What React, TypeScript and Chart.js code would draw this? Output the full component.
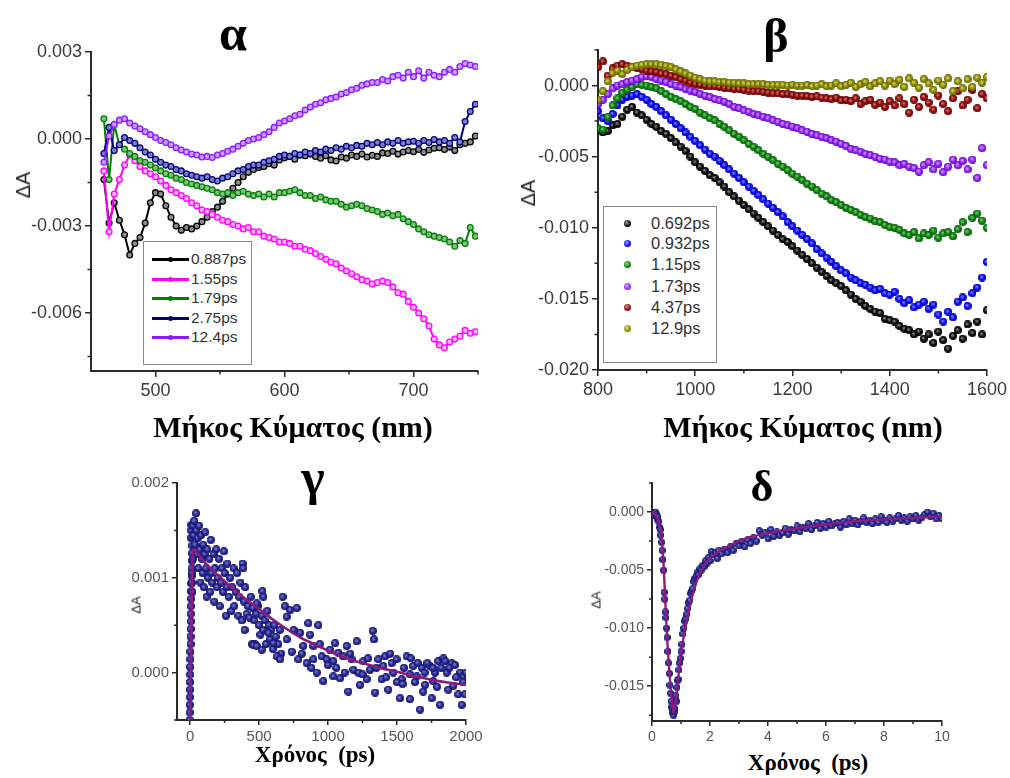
import React, { useEffect, useRef } from "react";
import { Chart, registerables } from "chart.js";

Chart.register(...registerables);

const SANS = "'Liberation Sans', Arial, Helvetica, sans-serif";
const SERIF = "'Liberation Serif', 'Times New Roman', serif";

// ---------- Panel α: visible transient spectra (ΔA × 10³) ----------
const waveVis = [
  460, 464, 468, 472, 476, 480, 484, 488, 492, 496,
  500, 504, 508, 512, 516, 520, 524, 528, 532, 536,
  540, 544, 548, 552, 556, 560, 564, 568, 572, 576,
  580, 584, 588, 592, 596, 600, 604, 608, 612, 616,
  620, 624, 628, 632, 636, 640, 644, 648, 652, 656,
  660, 664, 668, 672, 676, 680, 684, 688, 692, 696,
  700, 704, 708, 712, 716, 720, 724, 728, 732, 736,
  740, 744, 748,
];
const vis0887 = [
  -1.4, -2.9, -2.2, -2.8, -3.3, -4.0, -3.6, -3.4, -2.9, -2.2,
  -1.85, -1.9, -2.3, -2.7, -3.0, -3.15, -3.05, -3.1, -3.0, -2.85,
  -2.7, -2.5, -2.35, -2.15, -1.9, -1.7, -1.5, -1.3, -1.15, -1.05,
  -0.98, -0.95, -0.85, -0.9, -0.72, -0.65, -0.6, -0.7, -0.55, -0.58,
  -0.52, -0.6, -0.66, -0.58, -0.72, -0.76, -0.62, -0.66, -0.55, -0.6,
  -0.52, -0.62, -0.56, -0.6, -0.48, -0.5, -0.42, -0.52, -0.45, -0.4,
  -0.44, -0.36, -0.46, -0.38, -0.32, -0.3, -0.36, -0.28, -0.4, -0.2,
  -0.15, -0.1, 0.1,
];
const vis155 = [
  -1.1, -3.2, -1.9, -1.4, -0.9, -0.55, -0.75, -0.95, -1.1, -1.2,
  -1.3, -1.45, -1.6, -1.75, -1.85, -1.95, -2.05, -2.2, -2.3, -2.45,
  -2.5, -2.6, -2.7, -2.8, -2.85, -2.95, -3.0, -3.1, -3.05, -3.2,
  -3.2, -3.35, -3.4, -3.45, -3.55, -3.55, -3.6, -3.7, -3.7, -3.8,
  -3.85, -3.95, -4.05, -4.15, -4.25, -4.3, -4.45, -4.55, -4.65, -4.75,
  -4.85, -4.9, -5.0, -4.95, -4.9, -4.95, -5.1, -5.3, -5.35, -5.6,
  -5.8, -6.0, -6.2, -6.45, -6.9, -7.1, -7.2, -7.0, -6.9, -6.8,
  -6.6, -6.7, -6.65,
];
const vis179 = [
  0.7, -1.4, 0.5, -0.2, -0.35, -0.5, -0.6, -0.75, -0.8, -0.9,
  -1.0, -1.1, -1.2, -1.25, -1.35, -1.4, -1.5, -1.55, -1.6, -1.65,
  -1.7, -1.75, -1.85, -1.9, -1.85, -1.95, -1.85, -1.8, -1.9, -1.95,
  -1.9, -2.0, -1.9, -2.0, -1.85, -1.85, -1.8, -1.75, -1.85, -1.95,
  -1.95, -2.05, -2.0, -2.1, -2.15, -2.15, -2.25, -2.35, -2.3, -2.25,
  -2.3, -2.4, -2.45, -2.5, -2.6, -2.55, -2.65, -2.6, -2.75, -2.85,
  -2.95, -3.1, -3.2, -3.3, -3.35, -3.4, -3.45, -3.55, -3.7, -3.5,
  -3.6, -3.05, -3.35,
];
const vis275 = [
  -0.5, 0.4, -0.4, -0.2, 0.05, -0.05, -0.15, -0.3, -0.45, -0.55,
  -0.7, -0.8, -0.9, -0.95, -1.05, -1.1, -1.2, -1.25, -1.3, -1.35,
  -1.3, -1.4, -1.45, -1.35, -1.3, -1.2, -1.1, -1.05, -0.95, -0.9,
  -0.9, -0.8, -0.75, -0.7, -0.6, -0.55, -0.6, -0.5, -0.55, -0.45,
  -0.5, -0.4, -0.45, -0.35, -0.4, -0.3, -0.35, -0.25, -0.3, -0.22,
  -0.25, -0.15, -0.2, -0.12, -0.2, -0.1, -0.15, -0.05, -0.15, -0.1,
  -0.08, -0.15, -0.05, -0.12, -0.02, -0.1, -0.05, -0.15, 0.05, -0.1,
  0.6, 0.95, 1.2,
];
const vis124 = [
  -0.8, 0.1, 0.5, 0.65, 0.7, 0.55, 0.45, 0.35, 0.25, 0.15,
  0.05, -0.05, -0.12, -0.2, -0.3, -0.38, -0.45, -0.52, -0.55, -0.62,
  -0.6, -0.64, -0.55, -0.5, -0.42, -0.35, -0.25, -0.15, -0.05, 0.0,
  0.05, 0.15, 0.25, 0.4, 0.55, 0.62, 0.7, 0.8, 0.85, 1.0,
  1.1, 1.2, 1.25, 1.35, 1.4, 1.45, 1.55, 1.6, 1.7, 1.75,
  1.85, 1.9, 1.95, 1.95, 2.05, 2.0, 2.15, 2.2, 2.1, 2.3,
  2.15, 2.35, 2.1, 2.3, 2.2, 2.15, 2.3, 2.4, 2.3, 2.5,
  2.6, 2.55, 2.5,
];
const visLabels = ["0.887ps", "1.55ps", "1.79ps", "2.75ps", "12.4ps"];
const visColors = ["#000000", "#ff00ff", "#008000", "#000080", "#8a1aff"];
const visTints = ["#8c8c8c", "#ffb3ff", "#7fc07f", "#7f7fc4", "#c99bff"];

// ---------- Panel β: near-IR transient spectra (ΔA × 10³) ----------
const waveNir = [
  800, 810, 820, 830, 840, 850, 860, 870, 880, 890,
  900, 910, 920, 930, 940, 950, 960, 970, 980, 990,
  1000, 1010, 1020, 1030, 1040, 1050, 1060, 1070, 1080, 1090,
  1100, 1110, 1120, 1130, 1140, 1150, 1160, 1170, 1180, 1190,
  1200, 1210, 1220, 1230, 1240, 1250, 1260, 1270, 1280, 1290,
  1300, 1310, 1320, 1330, 1340, 1350, 1360, 1370, 1380, 1390,
  1400, 1410, 1420, 1430, 1440, 1450, 1460, 1470, 1480, 1490,
  1500, 1510, 1520, 1530, 1540, 1550, 1560, 1570, 1580, 1590,
  1600,
];
const nir0692 = [
  -3.1, -3.3, -3.2, -2.8, -2.7, -2.2, -1.7, -1.5, -1.9, -2.1,
  -2.4, -2.7, -2.9, -3.2, -3.4, -3.7, -4.0, -4.3, -4.6, -5.0,
  -5.4, -5.7, -6.0, -6.3, -6.5, -6.8, -7.1, -7.5, -7.8, -8.1,
  -8.4, -8.7, -9.0, -9.3, -9.6, -9.9, -10.2, -10.5, -10.8, -11.0,
  -11.3, -11.6, -11.9, -12.2, -12.5, -12.8, -13.1, -13.4, -13.7, -13.9,
  -14.1, -14.4, -14.7, -15.0, -15.2, -15.5, -15.7, -15.9, -16.0, -16.4,
  -16.5, -16.6, -16.9, -17.1, -17.2, -17.5, -17.3, -17.8, -17.5, -18.1,
  -17.3, -17.9, -18.5, -17.6, -17.2, -17.8, -16.8, -17.4, -16.6, -17.5,
  -15.8,
];
const nir0932 = [
  -1.8, -2.3, -2.5, -2.0, -1.4, -1.0, -0.8, -0.7, -0.6, -0.8,
  -1.0, -1.3, -1.5, -1.8, -2.1, -2.4, -2.7, -3.0, -3.3, -3.6,
  -3.9, -4.2, -4.5, -4.8, -5.0, -5.3, -5.6, -5.9, -6.2, -6.5,
  -6.8, -7.1, -7.4, -7.7, -8.0, -8.3, -8.6, -8.9, -9.2, -9.6,
  -9.9, -10.2, -10.5, -10.8, -11.1, -11.5, -11.8, -12.1, -12.4, -12.7,
  -13.0, -13.2, -13.5, -13.7, -13.9, -14.0, -14.2, -14.4, -14.3, -14.6,
  -14.7, -14.5, -15.0, -15.3, -15.1, -15.6, -15.4, -15.2, -15.7, -15.4,
  -16.1, -16.6, -15.9, -16.3, -15.2, -14.9, -15.5, -14.6, -14.2, -13.5,
  -12.4,
];
const nir115 = [
  -3.0, -3.1, -2.2, -1.4, -0.9, -0.5, -0.3, -0.1, 0.1, 0.05,
  0.0, -0.1, -0.2, -0.4, -0.6, -0.8, -0.95, -1.1, -1.3, -1.5,
  -1.65, -1.9, -2.1, -2.3, -2.45, -2.7, -2.9, -3.15, -3.4, -3.6,
  -3.85, -4.1, -4.3, -4.55, -4.8, -5.0, -5.25, -5.5, -5.7, -5.95,
  -6.2, -6.4, -6.65, -6.9, -7.1, -7.35, -7.6, -7.8, -8.05, -8.2,
  -8.4, -8.6, -8.75, -8.9, -9.1, -9.25, -9.35, -9.55, -9.6, -9.8,
  -9.95, -10.0, -10.15, -10.4, -10.5, -10.3, -10.75, -10.4, -10.5, -10.2,
  -10.7, -10.4, -10.3, -10.6, -10.1, -9.6, -10.3, -9.3, -9.0, -9.5,
  -10.0,
];
const nir173 = [
  -1.3, -1.0, -0.6, -0.2, 0.0, 0.1, 0.25, 0.35, 0.45, 0.6,
  0.65, 0.6, 0.45, 0.35, 0.25, 0.1, 0.0, -0.1, -0.25, -0.35,
  -0.45, -0.6, -0.7, -0.8, -0.95, -1.05, -1.15, -1.3, -1.5, -1.6,
  -1.75, -1.85, -2.0, -2.1, -2.2, -2.3, -2.45, -2.55, -2.7, -2.8,
  -2.9, -3.0, -3.15, -3.25, -3.4, -3.5, -3.6, -3.7, -3.85, -3.95,
  -4.1, -4.25, -4.45, -4.55, -4.65, -4.8, -4.9, -5.0, -5.15, -5.2,
  -5.35, -5.4, -5.6, -5.5, -5.7, -5.8, -6.05, -5.6, -5.4, -5.9,
  -5.5, -6.1, -5.7, -5.2, -5.6, -5.3, -5.9, -5.2, -6.5, -4.4,
  -5.6,
];
const nir437 = [
  1.3, 1.7, 0.7, 1.2, 1.4, 1.5, 1.4, 1.3, 1.25, 1.15,
  1.05, 1.0, 0.95, 0.85, 0.8, 0.7, 0.6, 0.45, 0.35, 0.2,
  0.1, 0.05, 0.0, -0.05, -0.05, -0.1, -0.15, -0.2, -0.25, -0.25,
  -0.3, -0.35, -0.4, -0.4, -0.45, -0.5, -0.55, -0.55, -0.6, -0.6,
  -0.65, -0.7, -0.7, -0.75, -0.8, -0.75, -0.85, -0.9, -0.95, -0.85,
  -1.05, -1.0, -1.1, -0.9, -1.3, -1.1, -1.0, -1.35, -1.2, -1.5,
  -1.1, -1.4, -0.9, -1.3, -1.9, -1.0, -1.5, -0.8, -1.2, -1.7,
  -0.7, -1.3, -1.8, -0.9, -0.4, -1.4, -1.0, -0.3, -1.6, -0.6,
  -0.9,
];
const nir129 = [
  -1.0, -0.4, 0.3, 0.9, 1.05, 0.8, 1.1, 1.3, 1.4, 1.45,
  1.5, 1.5, 1.5, 1.45, 1.4, 1.3, 1.15, 1.0, 0.85, 0.7,
  0.55, 0.45, 0.35, 0.3, 0.3, 0.25, 0.25, 0.2, 0.2, 0.15,
  0.15, 0.1, 0.1, 0.1, 0.1, 0.05, 0.05, 0.05, 0.05, 0.0,
  0.05, 0.0, 0.0, 0.05, -0.05, 0.0, 0.1, -0.05, 0.0, 0.15,
  -0.05, 0.05, 0.2, -0.1, 0.1, 0.25, -0.05, 0.15, 0.3, 0.0,
  0.35, 0.1, 0.4, -0.1, 0.5, 0.2, -0.15, 0.45, 0.15, -0.3,
  0.35, 0.05, 0.5, -0.4, 0.3, -0.2, 0.45, -0.1, 0.55, 0.2,
  0.6,
];
const nirLabels = ["0.692ps", "0.932ps", "1.15ps", "1.73ps", "4.37ps", "12.9ps"];
const nirColors = ["#111111", "#1010ff", "#128a12", "#9a30ff", "#990f0f", "#929200"];
const nirLights = ["#a0a0a0", "#9a9aff", "#8fd08f", "#d8a8ff", "#d88a8a", "#e0e08a"];
const nirRims = ["#000000", "#0000a8", "#005a00", "#6000b8", "#600000", "#606000"];

// ---------- Panel γ: kinetic trace, long delays (ΔA × 10³) ----------
const timeG = [
  -4, -3, -2, -1, 0, 0, 1, 1, 2, 2, 3, 3, 4, 5, 5, 6, 8, 9, 10, 11, 12, 14, 15, 16,
  6, 8, 10, 18, 12, 14, 16, 20,
  20, 25, 30, 35, 43, 45, 50, 55, 60, 65, 70, 75, 80, 85, 90, 95, 100, 105, 110, 115,
  120, 125, 130, 140, 145, 150, 155, 160, 170, 175, 180, 190, 195, 200, 210, 215, 225, 230,
  240, 245, 250, 260, 265, 270, 280, 290, 300, 305, 315, 320, 330, 340, 350, 355, 365, 375,
  380, 385, 390, 395, 400, 410, 420, 430, 440, 450, 455, 465, 470, 480, 490, 500, 510, 520,
  530, 540, 550, 560, 570, 580, 590, 600, 610, 620, 640, 650, 660,
  524, 531, 483, 459, 483, 519, 568, 604, 628, 652, 671, 688, 700, 725, 737, 773, 797, 785,
  845, 857, 870, 894, 918, 930, 954, 966, 990, 1014, 1039, 1051, 1075, 1087, 1111, 1135,
  1147, 1171, 1208, 1220, 1232, 1256, 1280, 1304, 1324, 1333, 1341, 1365, 1389, 1413, 1437,
  1461, 1473, 1497, 1522, 1534, 1570, 1594, 1618, 1643, 1667, 1679, 1703, 1739, 1751, 1775,
  1799, 1812, 1836, 1860, 1872, 1896, 1908, 1944, 1957, 1981, 1969, 1993, 1401, 1594, 1763,
  1184, 1039, 894, 821,
  700, 750, 810, 880, 940, 1000, 1060, 1120, 1160, 1250, 1290, 1350, 1420, 1450, 1500, 1550,
  1600, 1650, 1700, 1720, 1790, 1820, 1850, 1880, 1920, 1980, 2000, 1540, 1630, 1690, 1760, 1930,
];
const valG = [
  -0.5, -0.42, -0.34, -0.26, -0.18, -0.1, -0.02, 0.06, 0.14, 0.22, 0.3, 0.38, 0.46, 0.54, 0.62, 0.7, 0.78, 0.86, 0.94, 1.02, 1.1, 1.18, 1.26, 1.34,
  1.42, 1.5, 1.56, 1.45, 0.95, 1.05, 0.85, 1.2,
  1.55, 1.45, 1.6, 1.35, 1.68, 1.5, 1.25, 1.42, 1.1, 1.55, 1.3, 0.95, 1.45, 1.2, 1.05, 1.35, 0.9, 1.25, 1.48, 1.1,
  0.8, 1.3, 1.0, 1.2, 0.85, 1.4, 1.05, 0.95, 1.25, 0.75, 1.1, 1.3, 0.9, 1.0, 1.2, 0.7, 0.95, 1.1,
  0.85, 1.28, 1.05, 0.6, 0.9, 1.15, 0.8, 1.0, 0.65, 0.9, 1.1, 0.7, 0.85, 1.05, 0.6, 0.8, 0.95, 0.55,
  1.15, 1.1, 0.75, 0.45, 0.9, 0.62, 0.7, 0.58, 0.8, 0.3, 0.68, 0.55, 0.3, 0.62, 0.7, 0.5, 0.4, 0.6,
  0.45, 0.55, 0.3, 0.65, 0.5, 0.35, 0.45, 0.25, 0.5, 0.38, 0.3, 0.45, 0.2,
  0.86, 0.8, 0.73, 0.29, 0.28, 0.24, 0.42, 0.31, 0.17, 0.14, 0.8, 0.7, 0.59, 0.66, 0.22, 0.68, 0.42, 0.14,
  0.1, 0.52, 0.4, 0.28, 0.0, 0.5, 0.17, -0.09, 0.14, 0.24, -0.04, 0.31, 0.21, -0.06, 0.17, 0.28,
  -0.2, 0.14, 0.33, 0.0, -0.13, 0.12, -0.07, 0.03, 0.44, 0.35, -0.21, 0.14, -0.07, 0.17, -0.18,
  0.1, 0.0, 0.14, -0.27, -0.07, 0.17, -0.28, 0.07, -0.04, -0.39, 0.05, -0.13, 0.07, -0.27, 0.0,
  0.12, -0.34, 0.15, 0.0, -0.18, 0.1, -0.14, -0.23, 0.0, -0.04, -0.34, -0.23, 0.07, -0.02, -0.09,
  0.03, 0.12, 0.14, 0.28,
  0.35, 0.45, 0.2, 0.05, 0.3, 0.08, 0.05, 0.0, 0.2, -0.02, 0.15, 0.05, -0.05, 0.2, -0.1, 0.05,
  0.15, 0.1, 0.0, 0.1, -0.15, 0.05, 0.12, 0.05, 0.08, -0.1, 0.0, -0.12, -0.1, -0.2, 0.05, -0.05,
];
const fitTimeG = [0, 20, 100, 200, 300, 400, 500, 600, 700, 800, 900, 1000, 1100, 1200, 1300, 1400, 1500, 1600, 1700, 1800, 1900, 2000];
const fitValG = [-0.6, 1.3, 1.17, 1.03, 0.9, 0.78, 0.67, 0.56, 0.46, 0.37, 0.3, 0.23, 0.17, 0.12, 0.08, 0.04, 0.01, -0.03, -0.06, -0.09, -0.11, -0.13];

// ---------- Panel δ: kinetic trace, short delays (ΔA × 10³) ----------
const timeD = [
  0.0, 0.05, 0.08, 0.12, 0.15, 0.18, 0.2, 0.23, 0.26, 0.28, 0.3, 0.33, 0.35, 0.37, 0.4, 0.42, 0.44, 0.46, 0.48, 0.5,
  0.52, 0.55, 0.57, 0.6, 0.62, 0.64, 0.66, 0.68, 0.7, 0.72, 0.74, 0.76, 0.78, 0.8, 0.82, 0.84, 0.86, 0.88, 0.9, 0.93,
  0.95, 0.98, 1.0, 1.03, 1.06, 1.1, 1.13, 1.16, 1.2, 1.23, 1.26, 1.3, 1.33, 1.36, 1.4, 1.44, 1.48, 1.52, 1.56, 1.6,
  1.65, 1.7, 1.75, 1.8, 1.85, 1.9, 1.95, 2.0, 2.05, 2.1, 2.2, 2.25, 2.3, 2.4, 2.5, 2.6, 2.7, 2.8, 2.9, 3.0,
  3.1, 3.2, 3.3, 3.4, 3.5, 3.6, 3.7, 3.8, 3.9, 4.0, 4.1, 4.2, 4.3, 4.4, 4.5, 4.6, 4.7, 4.8, 4.9, 5.0,
  5.1, 5.2, 5.3, 5.4, 5.5, 5.6, 5.7, 5.8, 5.9, 6.0, 6.1, 6.2, 6.3, 6.4, 6.5, 6.6, 6.7, 6.8, 6.9, 7.0,
  7.1, 7.2, 7.3, 7.4, 7.5, 7.6, 7.7, 7.8, 7.9, 8.0, 8.1, 8.2, 8.3, 8.4, 8.5, 8.6, 8.7, 8.8, 8.9, 9.0,
  9.1, 9.2, 9.3, 9.4, 9.5, 9.6, 9.7, 9.8, 9.9, 10.0,
];
const valD = [
  0.0, -0.3, -0.1, 0.0, -0.2, -0.6, -0.4, -0.8, -1.3, -1.5, -2.0, -2.6, -3.3, -4.1, -5.0, -6.9, -7.5, -8.6, -9.1, -10.0,
  -10.8, -12.0, -13.0, -13.9, -14.9, -15.6, -16.3, -16.8, -17.0, -17.3, -17.5, -17.2, -16.9, -16.2, -15.8, -16.3, -15.1, -14.5, -14.4, -13.6,
  -13.0, -12.6, -12.0, -11.4, -10.5, -10.0, -9.4, -9.2, -8.8, -8.3, -7.8, -7.6, -7.0, -6.8, -6.6, -6.0, -5.7, -5.5, -5.2, -5.4,
  -4.9, -5.0, -4.6, -4.7, -4.2, -4.4, -3.9, -4.2, -3.4, -3.7, -3.5, -4.0, -3.3, -3.6, -3.2, -3.5, -3.0, -3.3, -2.7, -2.9,
  -2.5, -3.0, -2.4, -2.7, -2.2, -2.5, -1.6, -2.0, -1.8, -2.3, -1.5, -2.1, -1.7, -2.0, -1.8, -1.4, -1.9, -1.5, -1.6, -1.2,
  -1.7, -1.3, -1.4, -1.0, -1.5, -1.2, -0.9, -1.4, -1.0, -1.3, -0.8, -1.2, -1.0, -0.9, -1.3, -0.8, -1.1, -0.6, -1.0, -0.7,
  -1.1, -0.8, -0.5, -0.9, -0.7, -1.0, -0.6, -0.9, -0.4, -0.7, -0.9, -0.5, -0.8, -0.6, -0.3, -0.7, -0.5, -0.8, -0.4, -0.6,
  -0.3, -0.7, -0.5, -0.2, 0.0, -0.4, -0.1, -0.6, -0.3, -0.6,
];
const fitTimeD = [0, 0.1, 0.2, 0.3, 0.4, 0.5, 0.6, 0.7, 0.75, 0.8, 0.9, 1.0, 1.1, 1.2, 1.3, 1.4, 1.5, 1.6, 1.8, 2.0, 2.3, 2.6, 3.0, 3.5, 4.0, 4.5, 5, 6, 7, 8, 9, 10];
const fitValD = [0, -0.2, -0.6, -1.6, -4.6, -9.9, -13.8, -16.6, -17.3, -16.7, -14.4, -12.3, -10.6, -9.3, -8.1, -7.1, -6.3, -5.6, -4.6, -4.0, -3.4, -3.0, -2.5, -2.1, -1.85, -1.6, -1.4, -1.05, -0.8, -0.63, -0.5, -0.4];

// ---------- Axis ticks ----------
const xMajorA = [500, 600, 700];
const xMinorA = [550, 650, 750];
const yMajorA = [-0.006, -0.003, 0.0, 0.003];
const yMinorA = [-0.0075, -0.0045, -0.0015, 0.0015];

const xMajorB = [800, 1000, 1200, 1400, 1600];
const xMinorB = [900, 1100, 1300, 1500];
const yMajorB = [-0.02, -0.015, -0.01, -0.005, 0.0];
const yMinorB = [-0.0175, -0.0125, -0.0075, -0.0025, 0.0025];

const xMajorG = [0, 500, 1000, 1500, 2000];
const xMinorG = [250, 750, 1250, 1750];
const yMajorG = [0.0, 0.001, 0.002];
const yMinorG = [-0.0005, 0.0005, 0.0015];

const xMajorD = [0, 2, 4, 6, 8, 10];
const xMinorD = [1, 3, 5, 7, 9];
const yMajorD = [-0.015, -0.01, -0.005, 0.0];
const yMinorD = [-0.0175, -0.0125, -0.0075, -0.0025, 0.0025];

// ---------- helpers ----------
const milli = (xs: number[], ys: number[]) => xs.map((x, i) => ({ x, y: ys[i] / 1000 }));

function ball(rim: string, fill: string, light: string, d: number) {
  const c = document.createElement("canvas");
  c.width = d;
  c.height = d;
  const g = c.getContext("2d")!;
  const r = d / 2;
  const grad = g.createRadialGradient(r * 0.8, r * 0.75, 0, r, r, r);
  grad.addColorStop(0, light);
  grad.addColorStop(0.55, fill);
  grad.addColorStop(1, rim);
  g.fillStyle = grad;
  g.beginPath();
  g.arc(r, r, r, 0, Math.PI * 2);
  g.fill();
  return c;
}

type Axis = { min: number; max: number; major: number[]; minor: number[]; label: (v: number) => string };
type PanelDef = {
  box: [number, number, number, number];
  area: [number, number, number, number];
  x: Axis;
  y: Axis;
  font: number;
  tickColor: string;
  axisColor: string;
  tickLen: number;
  minorLen: number;
  padX: number;
  padY: number;
  datasets: () => any[];
};

function ChartPanel({ def }: { def: PanelDef }) {
  const ref = useRef<HTMLCanvasElement | null>(null);
  useEffect(() => {
    const [bx, by, bw, bh] = def.box;
    const [l, t, r, b] = def.area;
    const minorPlugin = {
      id: "minorTicks",
      afterDraw(chart: any) {
        const { ctx, chartArea: a, scales } = chart;
        ctx.save();
        ctx.strokeStyle = def.axisColor;
        ctx.lineWidth = 1.5;
        ctx.beginPath();
        for (const v of def.x.minor) {
          const p = scales.x.getPixelForValue(v);
          ctx.moveTo(p, a.bottom);
          ctx.lineTo(p, a.bottom + def.minorLen);
        }
        for (const v of def.y.minor) {
          const p = scales.y.getPixelForValue(v);
          ctx.moveTo(a.left, p);
          ctx.lineTo(a.left - def.minorLen, p);
        }
        ctx.stroke();
        ctx.restore();
      },
    };
    const axis = (ax: Axis, isX: boolean) => ({
      type: "linear",
      min: ax.min,
      max: ax.max,
      afterBuildTicks: (s: any) => {
        s.ticks = ax.major.map((value) => ({ value }));
      },
      afterFit: (s: any) => {
        if (isX) s.height = by + bh - b;
        else s.width = l - bx;
      },
      ticks: {
        autoSkip: false,
        maxRotation: 0,
        minRotation: 0,
        padding: isX ? def.padX : def.padY,
        color: def.tickColor,
        font: { family: SANS, size: def.font },
        callback: (v: any) => ax.label(Number(v)),
      },
      grid: {
        drawOnChartArea: false,
        drawTicks: true,
        tickLength: def.tickLen,
        color: def.axisColor,
        lineWidth: 1.5,
      },
      border: { display: true, color: def.axisColor, width: 2 },
    });
    const chart = new Chart(ref.current!, {
      type: "scatter",
      data: { datasets: def.datasets() },
      options: {
        responsive: false,
        animation: false,
        devicePixelRatio: 1,
        events: [],
        layout: { padding: { top: t - by, right: bx + bw - r, left: 0, bottom: 0 } },
        plugins: { legend: { display: false }, tooltip: { enabled: false } },
        scales: { x: axis(def.x, true) as any, y: axis(def.y, false) as any },
      },
      plugins: [minorPlugin],
    });
    return () => chart.destroy();
  }, [def]);
  const [bx, by, bw, bh] = def.box;
  return <canvas ref={ref} width={bw} height={bh} style={{ position: "absolute", left: bx, top: by }} />;
}

const fix3 = (v: number) => v.toFixed(3);
const plain = (v: number) => String(v);

const panelA: PanelDef = {
  box: [0, 30, 500, 385],
  area: [91, 52, 478, 371],
  x: { min: 450, max: 750, major: xMajorA, minor: xMinorA, label: plain },
  y: { min: -0.008, max: 0.003, major: yMajorA, minor: yMinorA, label: fix3 },
  font: 18,
  tickColor: "#3a3a3a",
  axisColor: "#2a2a2a",
  tickLen: 6,
  minorLen: 3.5,
  padX: 3,
  padY: 3,
  datasets: () =>
    [vis0887, vis155, vis179, vis275, vis124].map((vals, i) => ({
      data: milli(waveVis, vals),
      showLine: true,
      borderColor: visColors[i],
      backgroundColor: visColors[i],
      borderWidth: 2,
      pointRadius: 2.9,
      pointBorderWidth: 1.3,
      pointBorderColor: visColors[i],
      pointBackgroundColor: visTints[i],
      order: 5 - i,
    })),
};

const panelB: PanelDef = {
  box: [500, 30, 510, 385],
  area: [598, 50, 987, 370],
  x: { min: 800, max: 1600, major: xMajorB, minor: xMinorB, label: plain },
  y: { min: -0.02, max: 0.0025, major: yMajorB, minor: yMinorB, label: fix3 },
  font: 18,
  tickColor: "#3a3a3a",
  axisColor: "#2a2a2a",
  tickLen: 6,
  minorLen: 3.5,
  padX: 3,
  padY: 3,
  datasets: () =>
    [nir0692, nir0932, nir115, nir173, nir437, nir129].map((vals, i) => ({
      data: milli(waveNir, vals),
      showLine: false,
      pointRadius: 4,
      pointStyle: ball(nirRims[i], nirColors[i], nirLights[i], 8),
      order: 6 - i,
    })),
};

const panelG: PanelDef = {
  box: [100, 465, 390, 285],
  area: [177, 483, 466, 720],
  x: { min: -95, max: 2000, major: xMajorG, minor: xMinorG, label: plain },
  y: { min: -0.0005, max: 0.002, major: yMajorG, minor: yMinorG, label: fix3 },
  font: 15,
  tickColor: "#555555",
  axisColor: "#2a2a2a",
  tickLen: 5,
  minorLen: 3,
  padX: 3,
  padY: 3,
  datasets: () => [
    {
      data: milli(fitTimeG, fitValG),
      showLine: true,
      borderColor: "#8b1c7f",
      borderWidth: 2.6,
      pointRadius: 0,
      cubicInterpolationMode: "monotone",
      order: 0,
    },
    {
      data: milli(timeG, valG),
      showLine: false,
      pointRadius: 4,
      pointStyle: ball("#10106a", "#2c2c96", "#8c8cd6", 8),
      order: 1,
    },
  ],
};

const panelD: PanelDef = {
  box: [560, 465, 450, 285],
  area: [652, 483, 942, 721],
  x: { min: 0, max: 10, major: xMajorD, minor: xMinorD, label: plain },
  y: { min: -0.018, max: 0.0025, major: yMajorD, minor: yMinorD, label: fix3 },
  font: 14,
  tickColor: "#555555",
  axisColor: "#2a2a2a",
  tickLen: 5,
  minorLen: 3,
  padX: 3,
  padY: 3,
  datasets: () => [
    {
      data: milli(fitTimeD, fitValD),
      showLine: true,
      borderColor: "#8b1c7f",
      borderWidth: 2.4,
      pointRadius: 0,
      cubicInterpolationMode: "monotone",
      order: 0,
    },
    {
      data: milli(timeD, valD),
      showLine: false,
      pointRadius: 3.5,
      pointStyle: ball("#10106a", "#2c2c96", "#8c8cd6", 7),
      order: 1,
    },
  ],
};

// text placed by its baseline, horizontally centred on x
function Caption({ x, base, size, serif, bold, color, children }: any) {
  const k = serif ? 0.8375 : 0.8465;
  return (
    <div
      style={{
        position: "absolute",
        left: x,
        top: base - k * size,
        transform: "translateX(-50%)",
        fontFamily: serif ? SERIF : SANS,
        fontSize: size,
        lineHeight: `${size}px`,
        fontWeight: bold ? 700 : 400,
        color: color || "#000",
        whiteSpace: "pre",
      }}
    >
      {children}
    </div>
  );
}

function YTitle({ x, y, size }: { x: number; y: number; size: number }) {
  return (
    <div
      style={{
        position: "absolute",
        left: x,
        top: y,
        transform: "translate(-50%, -50%) rotate(-90deg)",
        fontFamily: SANS,
        fontSize: size,
        lineHeight: 1,
        color: "#222",
        whiteSpace: "nowrap",
      }}
    >
      ΔA
    </div>
  );
}

function LegendVis() {
  const rows = [259, 279, 298, 318, 337];
  return (
    <div style={{ position: "absolute", left: 143, top: 241, width: 107, height: 122, border: "1px solid #8a8a8a", background: "#fff" }}>
      {visLabels.map((lab, i) => (
        <React.Fragment key={lab}>
          <div style={{ position: "absolute", left: 8, top: rows[i] - 242 - 1.5, width: 37, height: 3, background: visColors[i] }} />
          <div style={{ position: "absolute", left: 24, top: rows[i] - 242 - 2.5, width: 5, height: 5, borderRadius: "50%", background: visColors[i] }} />
          <div style={{ position: "absolute", left: 47, top: rows[i] - 242 - 9, fontFamily: SANS, fontSize: 15.5, lineHeight: "18px", color: "#333" }}>{lab}</div>
        </React.Fragment>
      ))}
    </div>
  );
}

function LegendNir() {
  const rows = [223, 243, 264, 286, 307, 328];
  return (
    <div style={{ position: "absolute", left: 603, top: 206, width: 112, height: 155, border: "1px solid #8a8a8a", background: "#fff" }}>
      {nirLabels.map((lab, i) => (
        <React.Fragment key={lab}>
          <div
            style={{
              position: "absolute",
              left: 19.5,
              top: rows[i] - 207 - 3.5,
              width: 7,
              height: 7,
              borderRadius: "50%",
              background: `radial-gradient(circle at 40% 38%, ${nirLights[i]} 0%, ${nirColors[i]} 55%, ${nirRims[i]} 100%)`,
            }}
          />
          <div style={{ position: "absolute", left: 47, top: rows[i] - 207 - 10, fontFamily: SANS, fontSize: 16.5, lineHeight: "20px", color: "#333" }}>{lab}</div>
        </React.Fragment>
      ))}
    </div>
  );
}

export default function App() {
  return (
    <div style={{ position: "absolute", left: 0, top: 0, width: 1010, height: 778, background: "#fff", overflow: "hidden" }}>
      <ChartPanel def={panelA} />
      <ChartPanel def={panelB} />
      <ChartPanel def={panelG} />
      <ChartPanel def={panelD} />

      <LegendVis />
      <LegendNir />

      <Caption x={233} base={50} size={50} serif bold>α</Caption>
      <Caption x={776} base={52} size={48} serif bold>β</Caption>
      <Caption x={313} base={494} size={50} serif bold>γ</Caption>
      <Caption x={762} base={502} size={44} serif bold>δ</Caption>

      <Caption x={293} base={437} size={30} serif bold>Μήκος Κύματος (nm)</Caption>
      <Caption x={803} base={437} size={30} serif bold>Μήκος Κύματος (nm)</Caption>
      <Caption x={315} base={762} size={23} serif bold>{"Χρόνος  (ps)"}</Caption>
      <Caption x={808} base={770} size={23} serif bold>{"Χρόνος  (ps)"}</Caption>

      <YTitle x={23} y={185} size={20} />
      <YTitle x={528} y={193} size={20} />
      <YTitle x={136} y={605} size={13} />
      <YTitle x={596} y={600} size={13} />
    </div>
  );
}
